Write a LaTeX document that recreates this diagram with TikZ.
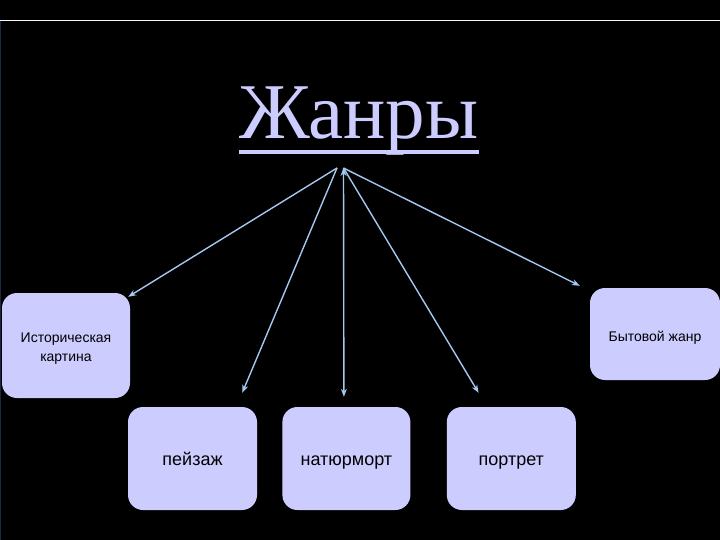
\documentclass[tikz,border=0pt]{standalone}
\usepackage{fontspec}
\setmainfont{Liberation Serif}
\setsansfont{Liberation Sans}
\usepackage{xcolor}
\usetikzlibrary{positioning, arrows.meta}

\definecolor{lavender}{HTML}{CCCCFF}
\definecolor{arrowblue}{HTML}{A4C8F0}
\definecolor{frameblue}{HTML}{1A2848}

\begin{document}
\begin{tikzpicture}[x=1pt, y=-1pt, >={Stealth[length=8pt,width=6pt]},
    genrebox/.style={draw=none, fill=lavender, rounded corners=15pt, inner sep=0pt,
        font=\sffamily, text=black, align=center},
    link/.style={->, draw=arrowblue, line width=1.4pt}]
                \fill[black] (0,0) rectangle (720,540);
                \useasboundingbox (0,0) rectangle (720,540);
                \draw[white!85!lavender, line width=1pt] (0,21) -- (720,21);
                \draw[frameblue, line width=1pt] (0.8,21) -- (0.8,540);

                \node[font=\fontsize{79}{80}\selectfont, text=lavender, anchor=base, inner sep=0pt]
                    (title) at (359,139) {Жанры};
                \draw[lavender, line width=3.5pt] ([yshift=-13pt]title.base west) -- ([yshift=-13pt]title.base east);

                \node[genrebox, minimum width=128pt, minimum height=105pt, font=\sffamily\fontsize{14}{18.5}\selectfont]
                    (hist) at (66,345.5) {\rule{0pt}{16pt}Историческая\\картина};
                \node[genrebox, minimum width=130pt, minimum height=92pt, font=\sffamily\fontsize{14}{18}\selectfont,
                    text height=16pt, text depth=1pt]
                    (everyday) at (655,334) {Бытовой жанр};
                \node[genrebox, minimum width=129pt, minimum height=103pt, font=\sffamily\fontsize{18}{20}\selectfont,
                    text height=16pt, text depth=2pt]
                    (land) at (192.5,458.5) {пейзаж};
                \node[genrebox, minimum width=128pt, minimum height=103pt, font=\sffamily\fontsize{18}{20}\selectfont,
                    text height=16pt, text depth=2pt]
                    (still) [right=25pt of land] {натюрморт};
                \node[genrebox, minimum width=129pt, minimum height=103pt, font=\sffamily\fontsize{18}{20}\selectfont,
                    text height=16pt, text depth=2pt]
                    (portrait) [right=36pt of still] {портрет};

                \coordinate (srcL) at (337,168);
                \coordinate (srcR) at (343.5,168);

                \path[link]
                (srcL) edge ([xshift=-2pt, yshift=-4pt]hist.north east)
                (srcL) edge ([xshift=-15pt, yshift=14pt]land.north east)
                (srcR) edge ([xshift=-2.5pt, yshift=10pt]still.north)
                (srcR) edge ([xshift=32pt, yshift=14pt]portrait.north west)
                (srcR) edge ([xshift=-10pt, yshift=2pt]everyday.north west);
            \end{tikzpicture}
\end{document}
